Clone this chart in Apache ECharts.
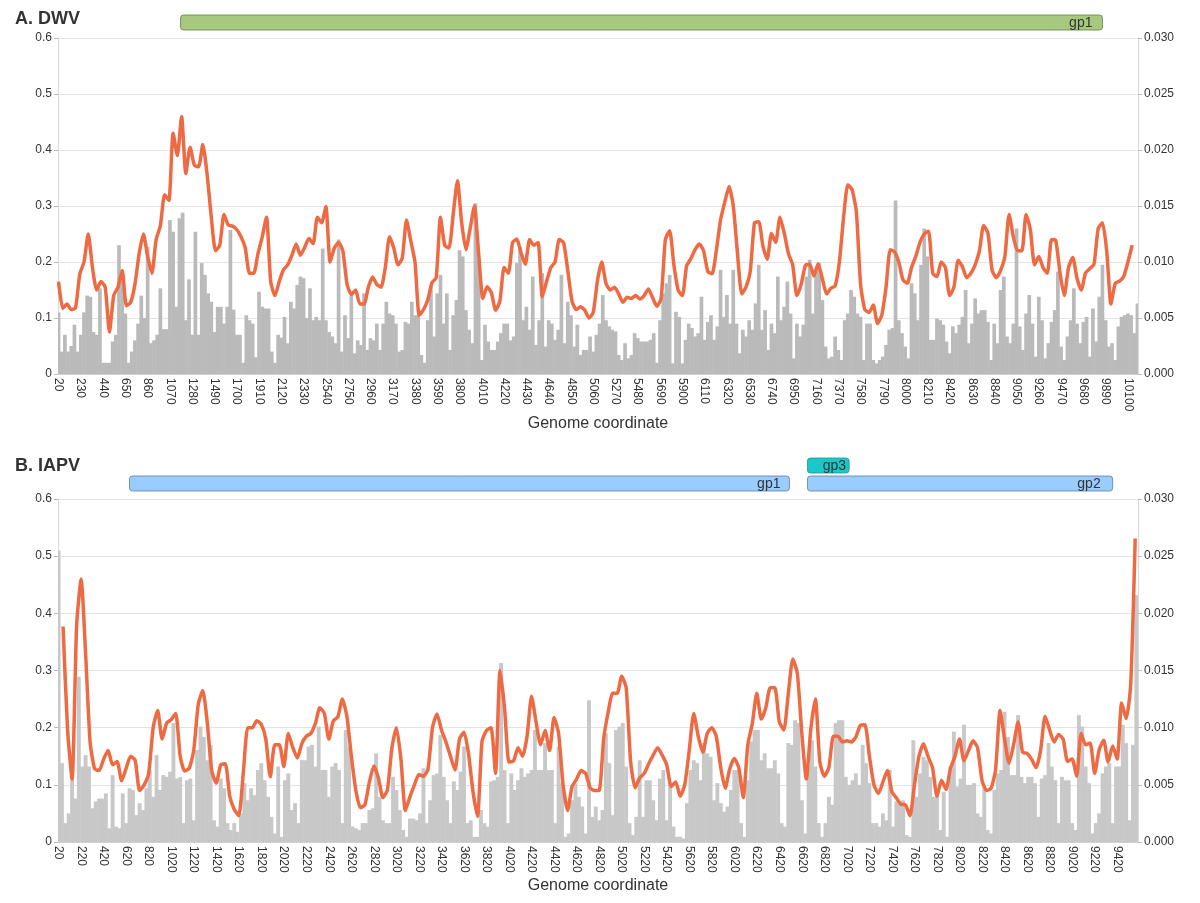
<!DOCTYPE html>
<html>
<head>
<meta charset="utf-8">
<script src="https://cdn.jsdelivr.net/npm/echarts@6/dist/echarts.min.js"></script>
<style>
html,body{margin:0;padding:0;background:#fff;}
#chart{width:1200px;height:903px;}
</style>
</head>
<body>
<div id="chart"></div>
<script>
// ---------------- DATA ----------------
// Genome axis (category steps of 10 nt)
const dwvAxis = {start: 20, end: 10190, step: 10};
const iapvAxis = {start: 20, end: 9600, step: 10};

// DWV: gray bars (left axis), one value every 30 nt starting at 20
const dwvBarStart = 20, dwvBarStep = 30;
const dwvBars = [
0.11,0.04,0.07,0.04,0.05,0.088,0.04,0.07,0.11,0.14,
0.138,0.075,0.07,0.153,0.02,0.02,0.02,0.058,0.07,0.23,
0.186,0.108,0.02,0.04,0.06,0.09,0.14,0.1,0.227,0.055,
0.06,0.07,0.153,0.08,0.08,0.275,0.254,0.12,0.278,0.288,
0.096,0.169,0.07,0.254,0.07,0.198,0.177,0.144,0.129,0.075,
0.12,0.12,0.09,0.12,0.257,0.115,0.07,0.07,0.02,0.105,
0.096,0.09,0.03,0.147,0.12,0.117,0.117,0.04,0.02,0.07,
0.065,0.102,0.055,0.129,0.117,0.159,0.174,0.171,0.1,0.153,
0.096,0.102,0.096,0.224,0.096,0.075,0.067,0.055,0.24,0.04,
0.105,0.064,0.14,0.037,0.06,0.052,0.144,0.043,0.064,0.06,
0.09,0.043,0.09,0.129,0.108,0.105,0.09,0.04,0.043,0.093,
0.09,0.129,0.105,0.105,0.034,0.02,0.096,0.156,0.067,0.144,
0.177,0.09,0.144,0.043,0.105,0.132,0.221,0.21,0.114,0.079,
0.055,0.305,0.204,0.025,0.088,0.058,0.043,0.043,0.058,0.073,
0.09,0.09,0.06,0.067,0.198,0.227,0.096,0.12,0.079,0.174,
0.052,0.096,0.18,0.049,0.096,0.09,0.061,0.079,0.177,0.055,
0.129,0.105,0.049,0.088,0.034,0.043,0.043,0.067,0.04,0.07,
0.09,0.141,0.096,0.085,0.079,0.076,0.034,0.025,0.055,0.028,
0.034,0.073,0.064,0.058,0.058,0.058,0.061,0.073,0.02,0.096,
0.144,0.162,0.177,0.019,0.111,0.102,0.019,0.061,0.09,0.082,
0.067,0.073,0.138,0.061,0.093,0.105,0.061,0.085,0.186,0.102,
0.141,0.09,0.186,0.09,0.037,0.079,0.067,0.096,0.079,0.126,
0.195,0.079,0.114,0.043,0.09,0.073,0.174,0.096,0.12,0.165,
0.108,0.028,0.09,0.067,0.088,0.174,0.204,0.108,0.186,0.198,
0.132,0.049,0.028,0.031,0.067,0.043,0.025,0.096,0.108,0.15,
0.138,0.108,0.102,0.025,0.09,0.09,0.025,0.019,0.025,0.031,
0.052,0.079,0.082,0.31,0.096,0.073,0.049,0.028,0.162,0.144,
0.096,0.195,0.26,0.21,0.061,0.061,0.099,0.096,0.088,0.058,
0.037,0.085,0.073,0.088,0.102,0.15,0.055,0.09,0.135,0.108,
0.114,0.114,0.093,0.025,0.09,0.055,0.15,0.174,0.067,0.055,
0.09,0.26,0.085,0.043,0.108,0.141,0.09,0.031,0.138,0.096,
0.028,0.055,0.093,0.114,0.183,0.049,0.025,0.067,0.096,0.153,
0.09,0.055,0.093,0.102,0.031,0.117,0.058,0.138,0.195,0.096,
0.049,0.055,0.025,0.085,0.102,0.105,0.108,0.105,0.073,0.126
];

// DWV: orange line (right axis), one value every 40 nt starting at 20
const dwvLineStart = 20, dwvLineStep = 40;
const dwvLine = [
0.00825,0.00585,0.00625,0.00575,0.0059,0.0089,0.01,0.0125,0.0095,0.0075,
0.00825,0.00775,0.00375,0.007,0.00775,0.00925,0.0061,0.0064,0.008,0.01075,
0.0125,0.0105,0.009,0.012,0.01325,0.016,0.0155,0.0215,0.0195,0.023,
0.0179,0.02025,0.01865,0.0185,0.0205,0.01785,0.014,0.011,0.0115,0.01425,
0.0133,0.0132,0.0129,0.01225,0.01125,0.009,0.009,0.01075,0.01225,0.014,
0.00825,0.007,0.00825,0.0093,0.00975,0.0106,0.0116,0.0106,0.0113,0.0121,
0.01165,0.014,0.0135,0.01495,0.01,0.01125,0.01175,0.011,0.008,0.0071,
0.0075,0.00625,0.00625,0.00775,0.00865,0.008,0.00775,0.0095,0.01225,0.01125,
0.00975,0.01035,0.01375,0.0119,0.01,0.00525,0.00575,0.0066,0.00815,0.0086,
0.014,0.0115,0.01125,0.01425,0.01725,0.0135,0.0111,0.013,0.015,0.01075,
0.00675,0.0078,0.00725,0.0057,0.0065,0.0095,0.009,0.01175,0.01205,0.0108,
0.0098,0.012,0.0115,0.01175,0.0069,0.00825,0.0095,0.01,0.012,0.01175,
0.00925,0.0065,0.00575,0.006,0.0057,0.005,0.0055,0.00835,0.01,0.0081,
0.0075,0.00775,0.00715,0.0064,0.00685,0.00675,0.007,0.0067,0.007,0.0076,
0.0068,0.00605,0.00675,0.012,0.0128,0.00975,0.0075,0.007,0.00965,0.0103,
0.0111,0.0116,0.011,0.00915,0.00895,0.011,0.01375,0.01535,0.01675,0.015,
0.01075,0.00715,0.00775,0.00915,0.0135,0.0136,0.0114,0.01025,0.01255,0.01175,
0.014,0.0126,0.01075,0.00975,0.007,0.008,0.0097,0.0098,0.00875,0.00985,
0.0085,0.00715,0.00765,0.00785,0.01,0.014,0.0169,0.01645,0.0145,0.008,
0.00575,0.0055,0.00615,0.0045,0.00525,0.00775,0.0111,0.0109,0.01,0.0084,
0.0081,0.0095,0.0105,0.01175,0.0125,0.01275,0.009,0.0087,0.01,0.0095,
0.007,0.00775,0.01015,0.0096,0.0086,0.009,0.00975,0.011,0.01325,0.0126,
0.00925,0.0086,0.00925,0.0105,0.01425,0.01225,0.011,0.011,0.01425,0.0129,
0.00975,0.0105,0.0095,0.009,0.012,0.0119,0.009,0.007,0.0095,0.0104,
0.00855,0.0075,0.009,0.0094,0.0098,0.013,0.0135,0.011,0.00625,0.0081,
0.0083,0.0087,0.01,0.0115
];

// IAPV: gray bars (left axis), one value every 30 nt starting at 20
const iapvBarStart = 20, iapvBarStep = 30;
const iapvBars = [
0.51,0.138,0.033,0.05,0.108,0.076,0.289,0.132,0.152,0.132,
0.059,0.071,0.076,0.076,0.085,0.024,0.117,0.027,0.024,0.085,
0.033,0.094,0.091,0.047,0.068,0.056,0.094,0.126,0.079,0.152,
0.091,0.117,0.114,0.123,0.208,0.111,0.114,0.033,0.108,0.111,
0.038,0.161,0.202,0.184,0.143,0.17,0.038,0.027,0.111,0.094,
0.033,0.021,0.033,0.018,0.05,0.103,0.073,0.094,0.082,0.126,
0.138,0.108,0.079,0.044,0.015,0.132,0.009,0.108,0.12,0.056,
0.068,0.033,0.143,0.143,0.167,0.17,0.132,0.202,0.126,0.126,
0.079,0.132,0.138,0.126,0.033,0.196,0.167,0.027,0.024,0.021,
0.033,0.033,0.056,0.059,0.155,0.079,0.038,0.033,0.033,0.114,
0.091,0.056,0.021,0.009,0.041,0.041,0.038,0.05,0.129,0.033,
0.073,0.117,0.12,0.187,0.114,0.073,0.033,0.106,0.091,0.123,
0.167,0.033,0.038,0.009,0.009,0.056,0.033,0.027,0.106,0.108,
0.114,0.313,0.126,0.033,0.12,0.091,0.108,0.129,0.114,0.12,
0.126,0.196,0.126,0.126,0.173,0.126,0.126,0.033,0.167,0.103,
0.009,0.015,0.073,0.103,0.079,0.062,0.015,0.248,0.044,0.062,
0.038,0.056,0.19,0.138,0.047,0.196,0.202,0.208,0.132,0.033,
0.012,0.044,0.143,0.044,0.108,0.108,0.073,0.038,0.111,0.126,
0.038,0.103,0.027,0.009,0.009,0.006,0.068,0.126,0.143,0.138,
0.108,0.173,0.155,0.149,0.073,0.103,0.068,0.053,0.062,0.091,
0.126,0.126,0.033,0.009,0.108,0.176,0.196,0.196,0.143,0.155,
0.129,0.129,0.143,0.12,0.033,0.027,0.173,0.17,0.213,0.208,
0.073,0.015,0.132,0.178,0.132,0.033,0.009,0.033,0.079,0.065,
0.208,0.213,0.213,0.114,0.1,0.108,0.12,0.1,0.17,0.138,
0.103,0.033,0.033,0.027,0.05,0.038,0.126,0.027,0.071,0.071,
0.073,0.012,0.009,0.178,0.079,0.12,0.149,0.143,0.114,0.079,
0.085,0.021,0.088,0.009,0.132,0.193,0.097,0.111,0.205,0.1,
0.1,0.103,0.05,0.044,0.094,0.021,0.015,0.091,0.12,0.126,
0.228,0.184,0.117,0.117,0.222,0.114,0.103,0.114,0.114,0.103,
0.044,0.111,0.117,0.173,0.132,0.108,0.033,0.114,0.108,0.108,
0.033,0.021,0.222,0.202,0.132,0.103,0.015,0.033,0.05,0.12,
0.132,0.138,0.033,0.132,0.132,0.205,0.173,0.038,0.17,0.432
];

// IAPV: orange line (right axis), one value every 40 nt starting at 60
const iapvLineStart = 60, iapvLineStep = 40;
const iapvLine = [
0.01885,0.0098,0.0055,0.01885,0.023,0.0165,0.00875,0.0064,0.00625,0.00725,
0.008,0.00675,0.00705,0.00535,0.00645,0.0075,0.00715,0.0045,0.005,0.006,
0.01,0.0115,0.009,0.0104,0.0107,0.01125,0.0075,0.0062,0.00645,0.008,
0.012,0.01325,0.0105,0.00625,0.00515,0.00675,0.00685,0.004,0.00285,0.0023,
0.006,0.01,0.01,0.0106,0.0103,0.009,0.0057,0.0085,0.0085,0.0066,
0.0095,0.00825,0.00735,0.0086,0.00925,0.0095,0.01035,0.01175,0.01125,0.009,
0.0106,0.01095,0.0125,0.011,0.0075,0.0045,0.003,0.00325,0.00525,0.00665,
0.0056,0.0039,0.00455,0.00825,0.01,0.00725,0.00275,0.00395,0.005,0.0059,
0.00575,0.00635,0.01,0.0112,0.0098,0.00875,0.0075,0.0063,0.009,0.0096,
0.00775,0.0044,0.00225,0.0088,0.00975,0.01,0.006,0.015,0.01175,0.007,
0.0071,0.00825,0.0075,0.00925,0.01275,0.0105,0.0085,0.00975,0.008,0.0109,
0.0095,0.005,0.00275,0.00485,0.0055,0.00625,0.006,0.00475,0.0045,0.0045,
0.009,0.01135,0.013,0.013,0.0145,0.0135,0.007,0.00475,0.0056,0.006,
0.00685,0.0076,0.00825,0.0076,0.00675,0.00485,0.00525,0.004,0.005,0.008,
0.01125,0.00925,0.00785,0.0095,0.01,0.00925,0.0065,0.0047,0.0064,0.0073,
0.0065,0.0039,0.0085,0.01035,0.013,0.01075,0.01175,0.0135,0.0135,0.0105,
0.0098,0.013,0.016,0.01475,0.0095,0.0055,0.0099,0.0125,0.007,0.00575,
0.0065,0.00925,0.00925,0.00875,0.00885,0.00875,0.0092,0.0102,0.01025,0.0075,
0.005,0.00425,0.00525,0.00625,0.0044,0.00385,0.0033,0.00325,0.0023,0.005,
0.0075,0.0086,0.0075,0.0065,0.004,0.0054,0.0046,0.00645,0.0075,0.009,
0.0071,0.008,0.00885,0.00825,0.0054,0.0045,0.0047,0.0063,0.0115,0.009,
0.0069,0.0085,0.0105,0.00785,0.00775,0.00725,0.0065,0.008,0.011,0.0098,
0.00875,0.0094,0.009,0.00705,0.00725,0.00575,0.0095,0.0085,0.00865,0.006,
0.00805,0.0089,0.007,0.0084,0.00725,0.01215,0.0108,0.01375,0.02655
];

// Gene annotations (genome coordinates)
const dwvGeneNames = ['gp1'];
const dwvGeneStarts = [1170];
const dwvGeneEnds = [9855];
const dwvGeneRows = [0];

const iapvGeneNames = ['gp1', 'gp2', 'gp3'];
const iapvGeneStarts = [652, 6669, 6669];
const iapvGeneEnds = [6509, 9384, 7043];
const iapvGeneRows = [0, 0, 1];

// Axis tick labels
const leftTicks = [0, 0.1, 0.2, 0.3, 0.4, 0.5, 0.6];
const rightTicks = [0, 0.005, 0.01, 0.015, 0.02, 0.025, 0.03];

// ---------------- STYLE ----------------
const FONT = 'Liberation Sans, Arial, Helvetica, sans-serif';
const geneStyle = {
  gp1_dwv: {fill: '#a7c97f', stroke: '#5f7f45', pad: 10},
  gp1: {fill: '#99ccff', stroke: '#5f7f9f', pad: 9},
  gp2: {fill: '#99ccff', stroke: '#5f7f9f', pad: 12},
  gp3: {fill: '#19c9c9', stroke: '#2a8f8f', pad: 3}
};

function categories(ax) {
  const out = [];
  for (let c = ax.start; c <= ax.end; c += ax.step) out.push(String(c));
  return out;
}
function toPairs(values, start, step, ax) {
  return values.map((v, i) => [(start + i * step - ax.start) / ax.step, v]);
}
function geneData(names, starts, ends, rows, ax) {
  return names.map((n, i) => [(starts[i] - ax.start) / ax.step, (ends[i] - ax.start) / ax.step, rows[i], i]);
}
function makeGeneRenderer(names, styleKeys) {
  return function (params, api) {
    const i = api.value(3);
    const x1 = api.coord([api.value(0), 0])[0];
    const x2 = api.coord([api.value(1), 0])[0];
    const row = api.value(2);
    const top = params.coordSys.y;
    const h = 15;
    const y = top - 8 - h - row * 18;
    const st = geneStyle[styleKeys[i]];
    return {
      type: 'group',
      children: [
        {type: 'rect', shape: {x: x1, y: y, width: x2 - x1, height: h, r: 3},
         style: {fill: st.fill, stroke: st.stroke, lineWidth: 0.8}},
        {type: 'text', style: {text: names[i], x: x2 - st.pad, y: y + h / 2 + 1, align: 'right', verticalAlign: 'middle',
          fill: '#333', font: '14px ' + FONT}}
      ]
    };
  };
}

const dwvCats = categories(dwvAxis);
const iapvCats = categories(iapvAxis);

const grids = [
  {left: 58, right: 62, top: 38, height: 336},
  {left: 58, right: 62, top: 499, height: 343}
];

function xAxisCfg(gridIndex, cats, labelInterval, nameGap) {
  return {
    type: 'category', gridIndex: gridIndex, data: cats, boundaryGap: true,
    axisLine: {show: true, lineStyle: {color: '#d0d0d0'}},
    axisTick: {show: false},
    axisLabel: {interval: labelInterval, rotate: -90, color: '#333', fontSize: 12, fontFamily: FONT, margin: 4},
    name: 'Genome coordinate', nameLocation: 'middle', nameGap: nameGap,
    nameTextStyle: {color: '#333', fontSize: 16, fontFamily: FONT},
    splitLine: {show: false}
  };
}
function leftY(gridIndex) {
  return {
    type: 'value', gridIndex: gridIndex, min: leftTicks[0], max: leftTicks[leftTicks.length - 1], interval: 0.1,
    axisLine: {show: true, lineStyle: {color: '#d9d9d9'}},
    axisTick: {show: true, length: 4, lineStyle: {color: '#bbb'}},
    axisLabel: {color: '#333', fontSize: 12, fontFamily: FONT, margin: 6, formatter: v => String(+v.toFixed(1))},
    splitLine: {show: true, lineStyle: {color: '#e3e3e3'}}
  };
}
function rightY(gridIndex) {
  return {
    type: 'value', gridIndex: gridIndex, position: 'right', min: rightTicks[0], max: rightTicks[rightTicks.length - 1], interval: 0.005,
    axisLine: {show: true, lineStyle: {color: '#d9d9d9'}},
    axisTick: {show: true, length: 4, lineStyle: {color: '#bbb'}},
    axisLabel: {color: '#333', fontSize: 12, fontFamily: FONT, margin: 6, formatter: v => v.toFixed(3)},
    splitLine: {show: false}
  };
}

const chart = echarts.init(document.getElementById('chart'), null, {renderer: 'canvas'});
chart.setOption({
  animation: false,
  backgroundColor: '#fff',
  title: [
    {text: 'A. DWV', left: 10, top: 5, textStyle: {fontSize: 18, fontWeight: 'bold', color: '#333', fontFamily: FONT}},
    {text: 'B. IAPV', left: 10, top: 452, textStyle: {fontSize: 18, fontWeight: 'bold', color: '#333', fontFamily: FONT}}
  ],
  grid: grids,
  xAxis: [xAxisCfg(0, dwvCats, 20, 40), xAxisCfg(1, iapvCats, 19, 36)],
  yAxis: [leftY(0), rightY(0), leftY(1), rightY(1)],
  series: [
    {type: 'bar', xAxisIndex: 0, yAxisIndex: 0, data: toPairs(dwvBars, dwvBarStart, dwvBarStep, dwvAxis),
     barWidth: 3.7, itemStyle: {color: '#bababa'}, silent: true},
    {type: 'line', xAxisIndex: 0, yAxisIndex: 1, data: toPairs(dwvLine, dwvLineStart, dwvLineStep, dwvAxis),
     showSymbol: false, symbol: 'none', smooth: 0.2, lineStyle: {color: '#ee6a43', width: 3.5}, silent: true, z: 5},
    {type: 'bar', xAxisIndex: 1, yAxisIndex: 2, data: toPairs(iapvBars, iapvBarStart, iapvBarStep, iapvAxis),
     barWidth: 3.9, itemStyle: {color: '#c8c8c8'}, silent: true},
    {type: 'line', xAxisIndex: 1, yAxisIndex: 3, data: toPairs(iapvLine, iapvLineStart, iapvLineStep, iapvAxis),
     showSymbol: false, symbol: 'none', smooth: 0.2, lineStyle: {color: '#ee6a43', width: 3.5}, silent: true, z: 5},
    {type: 'custom', xAxisIndex: 0, yAxisIndex: 0, clip: false, silent: true,
     data: geneData(dwvGeneNames, dwvGeneStarts, dwvGeneEnds, dwvGeneRows, dwvAxis),
     encode: {x: [0, 1]},
     renderItem: makeGeneRenderer(dwvGeneNames, ['gp1_dwv'])},
    {type: 'custom', xAxisIndex: 1, yAxisIndex: 2, clip: false, silent: true,
     data: geneData(iapvGeneNames, iapvGeneStarts, iapvGeneEnds, iapvGeneRows, iapvAxis),
     encode: {x: [0, 1]},
     renderItem: makeGeneRenderer(iapvGeneNames, ['gp1', 'gp2', 'gp3'])}
  ]
});
</script>
</body>
</html>
